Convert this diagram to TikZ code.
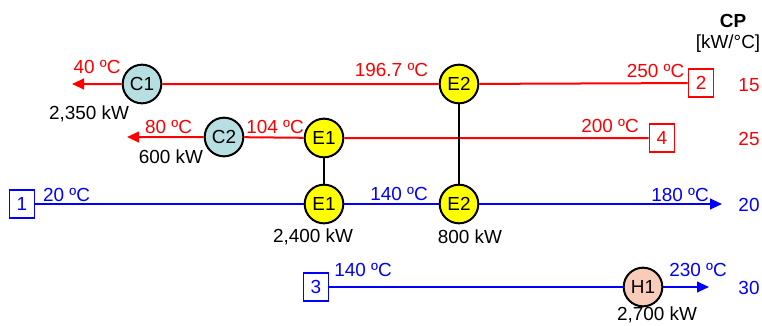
\documentclass[tikz,border=0pt]{standalone}
\usepackage{fontspec}
\setmainfont{Liberation Sans}
\usetikzlibrary{arrows.meta}
\definecolor{hotred}{RGB}{255,0,0}
\definecolor{coldblue}{RGB}{0,0,255}
\definecolor{coolfill}{RGB}{183,222,224}
\definecolor{exfill}{RGB}{255,255,0}
\definecolor{heatfill}{RGB}{248,204,184}
\begin{document}
\begin{tikzpicture}[x=0.75pt,y=-0.75pt,
  every node/.style={font=\fontsize{14.2}{16}\selectfont},
  unit/.style={circle,draw=black,line width=1.5pt,minimum size=29pt,inner sep=0pt},
  cooler/.style={unit,fill=coolfill},
  exch/.style={unit,fill=exfill},
  heater/.style={unit,fill=heatfill},
  hotbox/.style={draw=hotred,text=hotred,line width=1.1pt,minimum width=19pt,minimum height=21pt,inner sep=0pt},
  coldbox/.style={draw=coldblue,text=coldblue,line width=1.1pt,minimum width=19pt,minimum height=21pt,inner sep=0pt},
  hotline/.style={draw=hotred,line width=1.5pt},
  coldline/.style={draw=coldblue,line width=1.5pt},
  tip/.style={-{Triangle[length=9pt,width=8pt]}},
  link/.style={draw=black,line width=1.5pt},
  hotlbl/.style={anchor=base,text=hotred,inner sep=0pt},
  coldlbl/.style={anchor=base,text=coldblue,inner sep=0pt},
  duty/.style={anchor=base,text=black,inner sep=0pt}
]
\path[use as bounding box] (0,0) rectangle (762,325);

% stream boxes
\node[hotbox] (s2) at (701,83) {2};
\node[hotbox] (s4) at (662,138) {4};
\node[coldbox] (s1) at (22,204) {1};
\node[coldbox] (s3) at (316,287) {3};

% units
\node[cooler] (C1) at (142,84) {C1};
\node[cooler] (C2) at (224,137) {C2};
\node[exch] (E2t) at (459,84) {E2};
\node[exch] (E1t) at (324,138) {E1};
\node[exch] (E1b) at (324,204) {E1};
\node[exch] (E2b) at (459,204) {E2};
\node[heater] (H1) at (643,287) {H1};

% arrow ends
\coordinate (t2) at (72,84);
\coordinate (t4) at (127,137);
\coordinate (t1) at (722,204);
\coordinate (t3) at (709,287);

% streams
\draw[hotline,tip] (s2) -- (E2t) -- (C1) -- (t2);
\draw[hotline,tip] (s4) -- (E1t) -- (C2) -- (t4);
\draw[coldline,tip] (s1) -- (E1b) -- (E2b) -- (t1);
\draw[coldline,tip] (s3) -- (H1) -- (t3);

% exchanger links
\draw[link] (E1t) -- (E1b);
\draw[link] (E2t) -- (E2b);

% temperatures
\node[hotlbl] (T40) at (97,73) {40 ºC};
\node[hotlbl] (T196) at (391.5,76) {196.7 ºC};
\node[hotlbl] (T250) at (655.5,77) {250 ºC};
\node[hotlbl] (T80) at (168.5,133) {80 ºC};
\node[hotlbl] (T104) at (275,133) {104 ºC};
\node[hotlbl] (T200) at (610,132) {200 ºC};
\node[coldlbl] (T20) at (66.5,201) {20 ºC};
\node[coldlbl] (T140a) at (399,200) {140 ºC};
\node[coldlbl] (T180) at (680,201) {180 ºC};
\node[coldlbl] (T140b) at (363,276) {140 ºC};
\node[coldlbl] (T230) at (698,276) {230 ºC};

% duties
\node[duty] (Q1) at (89,119) {2,350 kW};
\node[duty] (Q2) at (171,163) {600 kW};
\node[duty] (Q3) at (313,242) {2,400 kW};
\node[duty] (Q4) at (470,243) {800 kW};
\node[duty] (Q5) at (657,320) {2,700 kW};

% CP column
\node[duty,font=\fontsize{14.2}{16}\selectfont\bfseries] (CP) at (733,27) {CP};
\node[duty] (CPu) at (728,48) {[kW/°C]};
\node[hotlbl] (cp2) at (749,91) {15};
\node[hotlbl] (cp4) at (749,145) {25};
\node[coldlbl] (cp1) at (749,211) {20};
\node[coldlbl] (cp3) at (749,294) {30};
\end{tikzpicture}
\end{document}
